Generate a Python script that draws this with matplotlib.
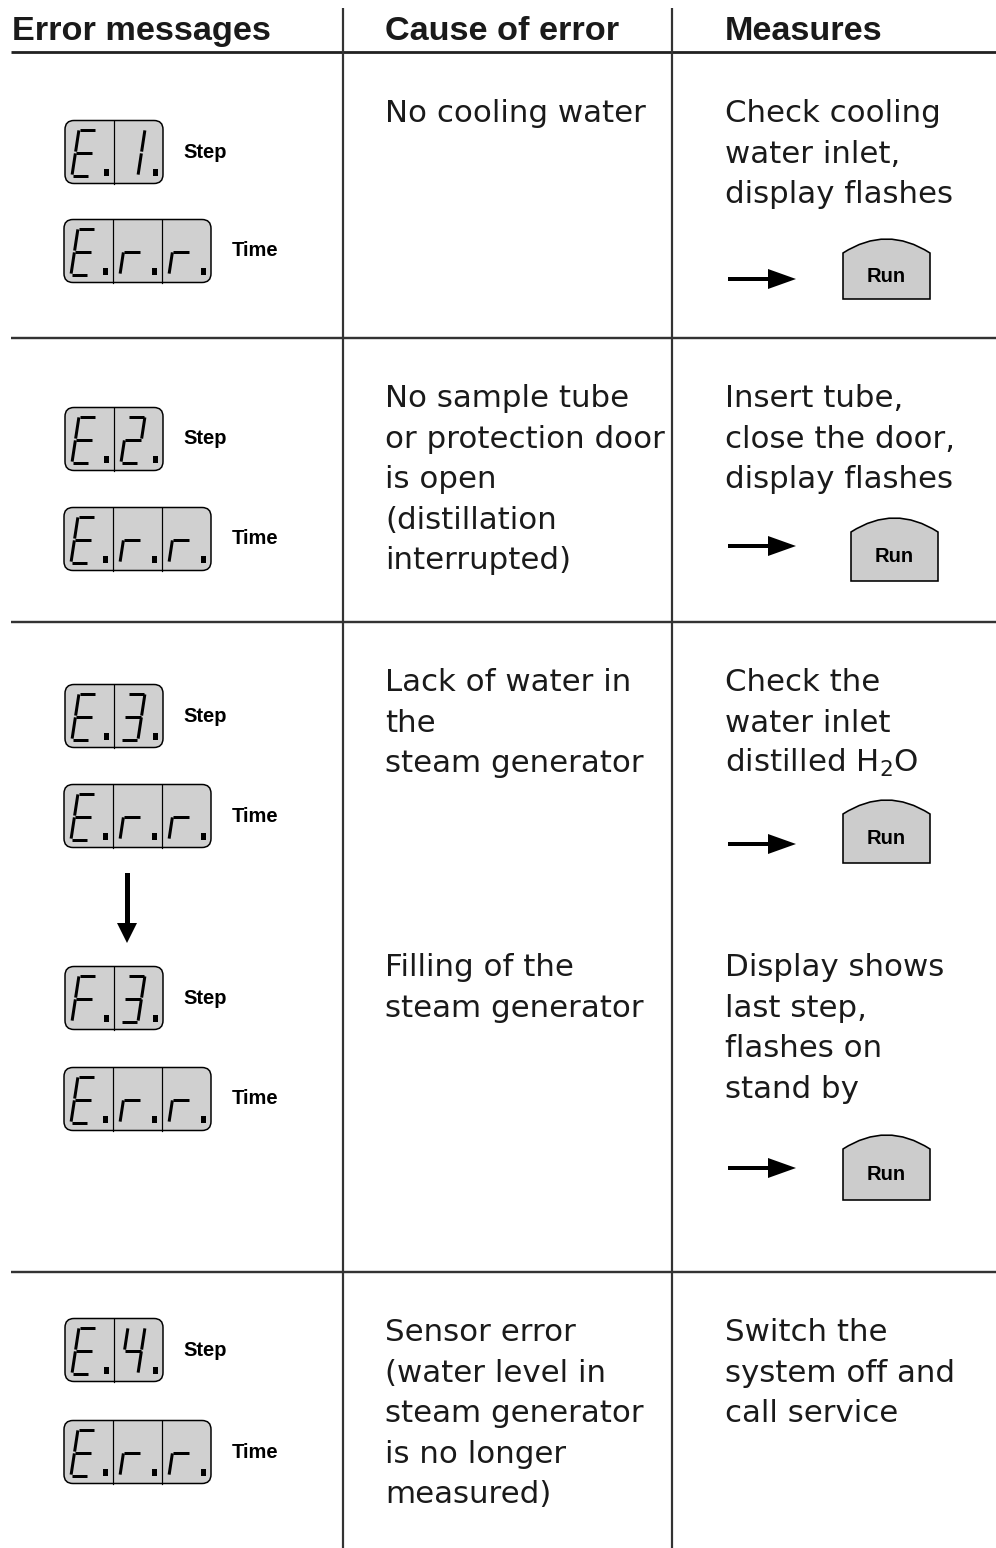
import matplotlib
matplotlib.use('Agg')
import matplotlib.pyplot as plt
from matplotlib.patches import FancyBboxPatch, PathPatch, Polygon, Rectangle
from matplotlib.path import Path

## table content
headers = ['Error messages', 'Cause of error', 'Measures']
step_codes = ['E1', 'E2', 'E3', 'F3', 'E4']
time_codes = ['Err', 'Err', 'Err', 'Err', 'Err']
causes = [
    ['No cooling water'],
    ['No sample tube', 'or protection door', 'is open', '(distillation', 'interrupted)'],
    ['Lack of water in', 'the', 'steam generator'],
    ['Filling of the', 'steam generator'],
    ['Sensor error', '(water level in', 'steam generator', 'is no longer', 'measured)'],
]
measures = [
    ['Check cooling', 'water inlet,', 'display flashes'],
    ['Insert tube,', 'close the door,', 'display flashes'],
    ['Check the', 'water inlet', r'distilled H$_2$O'],
    ['Display shows', 'last step,', 'flashes on', 'stand by'],
    ['Switch the', 'system off and', 'call service'],
]
has_run = [True, True, True, True, False]

## layout (pixels, y pointing down)
W, H = 996, 1548
col_x = [12, 385, 725]
vlines = [343, 672]
hlines = [338, 622, 1272]
text_base = [122, 407, 691, 976, 1341]
line_gap = 40.6
step_y = [152, 439, 716, 998, 1350]
time_y = [251, 539, 816, 1099, 1452]
arrow_y = [279, 546, 844, 1168]
run_x = [843, 851, 843, 843]
run_peak = [239, 518, 800, 1135]
run_bottom = [299, 581, 863, 1200]

ink = '#1a1a1a'
lcd = '#d0d0d0'
px = 0.72  # pixel -> point

fig = plt.figure(figsize=(W / 100, H / 100), dpi=100)
ax = fig.add_axes([0, 0, 1, 1])
ax.set_xlim(0, W)
ax.set_ylim(H, 0)
ax.axis('off')

# grid lines
ax.plot([11, W], [52, 52], color='#222', lw=2.8 * px, solid_capstyle='butt')
for y in hlines:
    ax.plot([11, W], [y, y], color='#333', lw=2.4 * px, solid_capstyle='butt')
for x in vlines:
    ax.plot([x, x], [8, H], color='#333', lw=2.2 * px, solid_capstyle='butt')

# headers
for x, t in zip(col_x, headers):
    ax.text(x, 40, t, fontsize=24.7, fontweight='bold', family='Liberation Sans',
            color=ink, va='baseline', ha='left')

## seven segment display
SEGS = {'a': ((0, 1), (1, 1)), 'b': ((1, 1), (1, .5)), 'c': ((1, .5), (1, 0)),
        'd': ((0, 0), (1, 0)), 'e': ((0, 0), (0, .5)), 'f': ((0, .5), (0, 1)),
        'g': ((0, .5), (1, .5))}
CHARS = {'E': 'adefg', 'F': 'aefg', 'r': 'eg', '1': 'bc', '2': 'abdeg',
         '3': 'abcdg', '4': 'bcfg'}
CELL = 49
BOX_H = 63


def digit(ch, left, bottom):
    w, h, sl, gap = 17, 46, 7, 0.9
    for s in CHARS[ch]:
        (u0, v0), (u1, v1) = SEGS[s]
        x0, y0 = left + u0 * w + v0 * sl, bottom - v0 * h
        x1, y1 = left + u1 * w + v1 * sl, bottom - v1 * h
        d = ((x1 - x0) ** 2 + (y1 - y0) ** 2) ** 0.5
        dx, dy = (x1 - x0) / d * gap, (y1 - y0) / d * gap
        ax.plot([x0 + dx, x1 - dx], [y0 + dy, y1 - dy], color='black',
                lw=3.0 * px, solid_capstyle='butt')
    ax.add_patch(Rectangle((left + 32, bottom - 7), 4.5, 7, color='black', lw=0))


def display(code, x0, yc):
    n = len(code)
    top = yc - BOX_H / 2
    ax.add_patch(FancyBboxPatch((x0, top), n * CELL, BOX_H,
                                boxstyle='round,pad=0,rounding_size=9',
                                fc=lcd, ec='black', lw=1.5 * px, zorder=1))
    for i in range(1, n):
        ax.plot([x0 + i * CELL] * 2, [top, top + BOX_H], color='black', lw=1.2 * px)
    for i, ch in enumerate(code):
        digit(ch, x0 + i * CELL + 7, top + BOX_H - 8)


def run_btn(x0, peak, bottom):
    w = 87
    sh = peak + 14
    verts = [(x0, bottom), (x0, sh), (x0 + w / 2, 2 * peak - sh), (x0 + w, sh),
             (x0 + w, bottom), (x0, bottom)]
    codes = [Path.MOVETO, Path.LINETO, Path.CURVE3, Path.CURVE3, Path.LINETO, Path.CLOSEPOLY]
    ax.add_patch(PathPatch(Path(verts, codes), fc='#cccccc', ec='black', lw=1.6 * px))
    ax.text(x0 + w / 2, (sh + bottom) / 2, 'Run', fontsize=14.5, fontweight='bold',
            family='Liberation Sans', ha='center', va='center', color='black')


def right_arrow(y):
    ax.add_patch(Rectangle((728, y - 2.3), 44, 4.6, color='black', lw=0))
    ax.add_patch(Polygon([(768, y - 10), (796, y), (768, y + 10)], color='black', lw=0))


for i in range(5):
    display(step_codes[i], 65, step_y[i])
    display(time_codes[i], 64, time_y[i])
    ax.text(183, step_y[i], 'Step', fontsize=14.5, fontweight='bold',
            family='Liberation Sans', va='center', color='black')
    ax.text(232, time_y[i], 'Time', fontsize=14.5, fontweight='bold',
            family='Liberation Sans', va='center', color='black')
    for j, t in enumerate(causes[i]):
        ax.text(col_x[1], text_base[i] + j * line_gap, t, fontsize=22.2,
                color=ink, va='baseline')
    for j, t in enumerate(measures[i]):
        ax.text(col_x[2], text_base[i] + j * line_gap, t, fontsize=22.2,
                color=ink, va='baseline')
    if has_run[i]:
        right_arrow(arrow_y[i])
        run_btn(run_x[i], run_peak[i], run_bottom[i])

# downward arrow between E3 and F3
ax.add_patch(Rectangle((125, 873), 4.5, 52, color='black', lw=0))
ax.add_patch(Polygon([(117, 923), (127, 943), (137, 923)], color='black', lw=0))

plt.savefig('out.png', dpi=100)
